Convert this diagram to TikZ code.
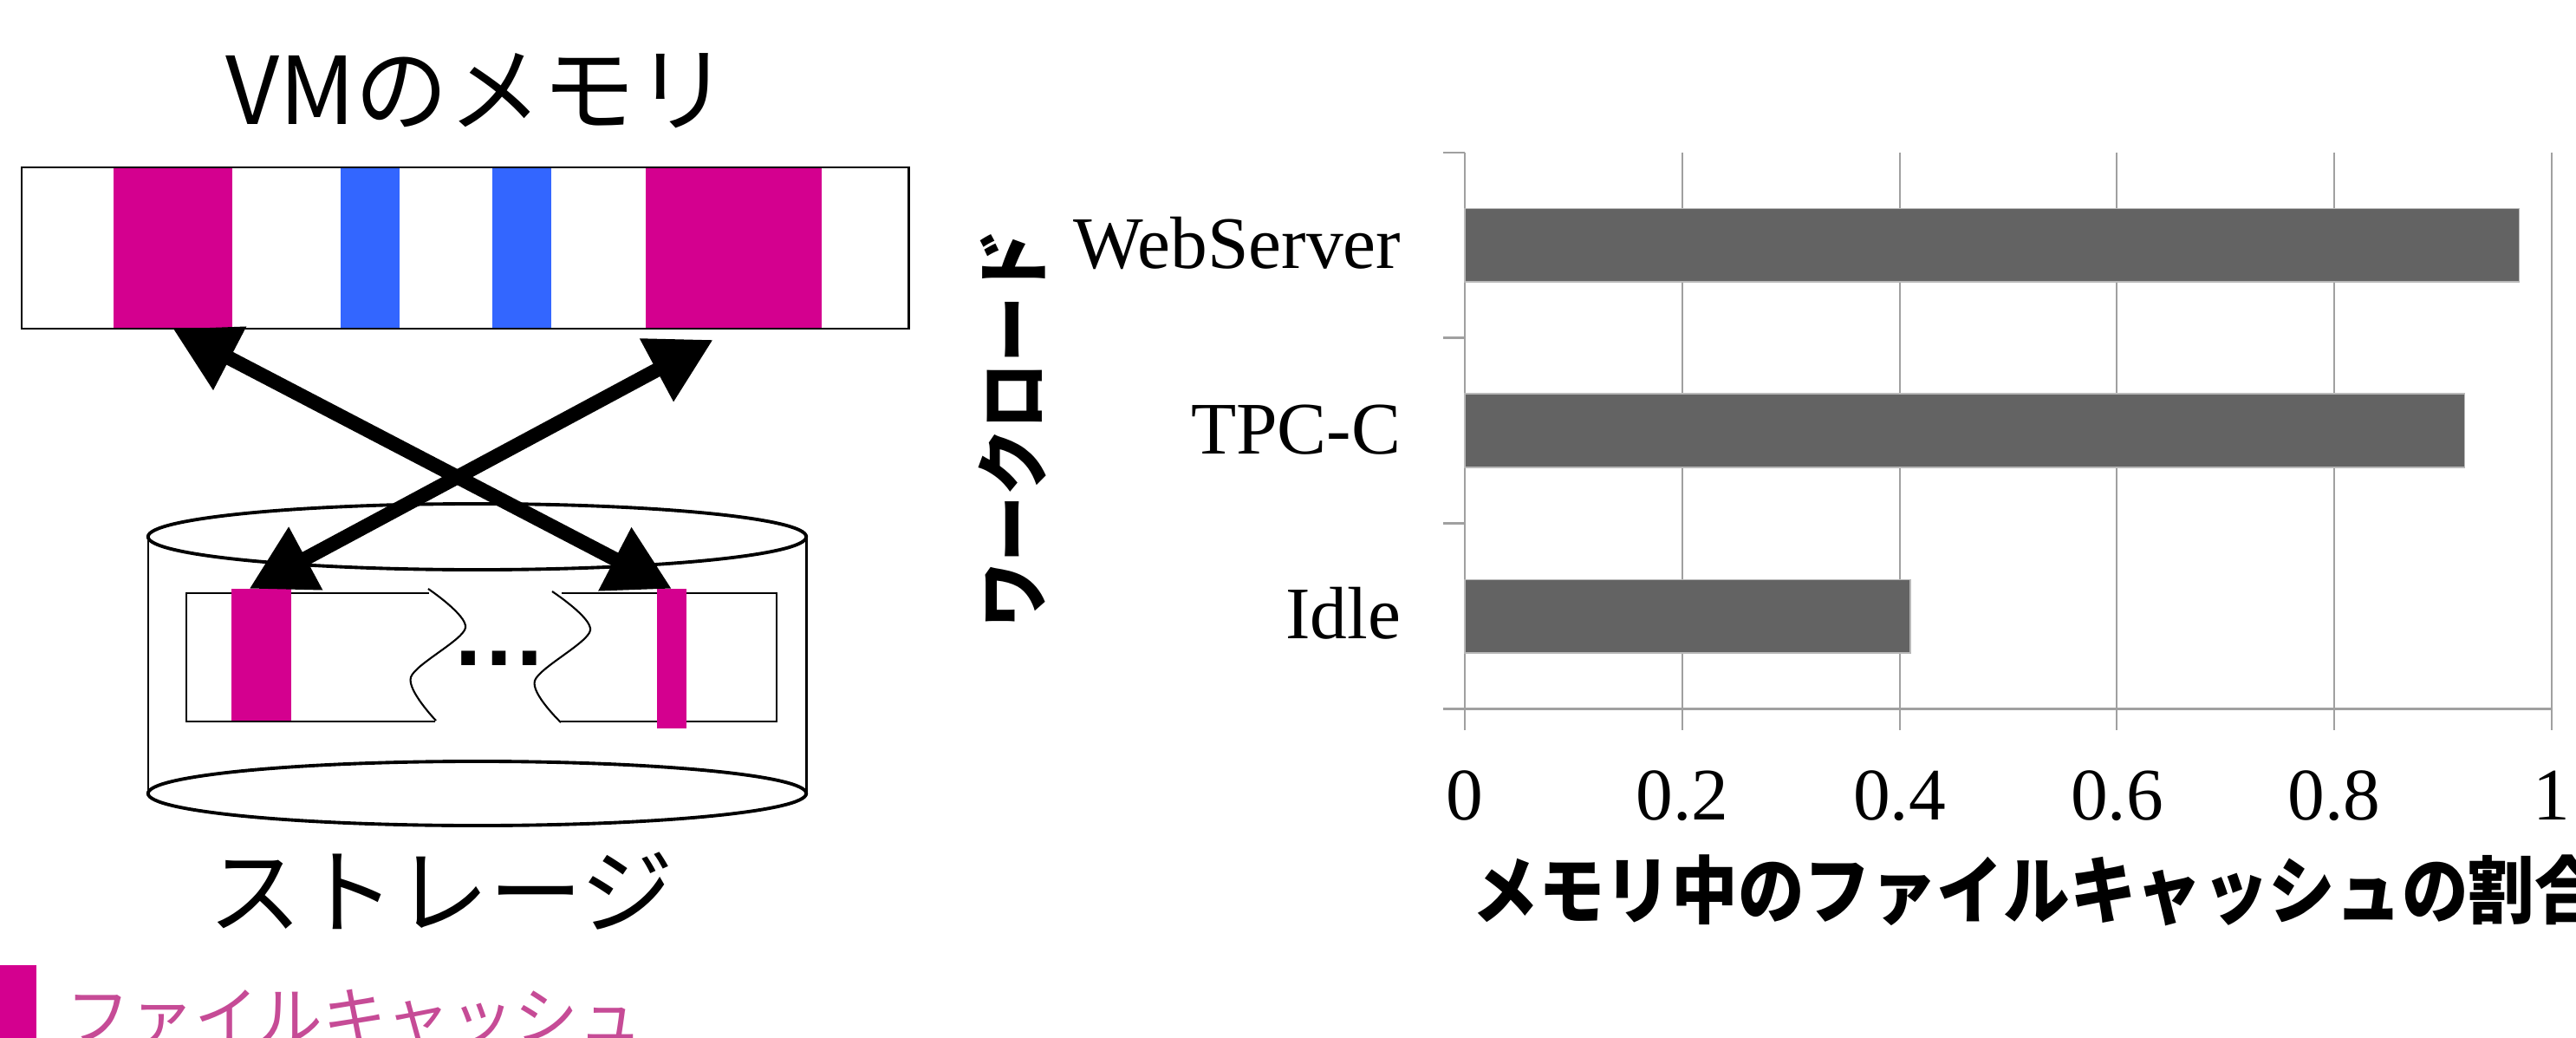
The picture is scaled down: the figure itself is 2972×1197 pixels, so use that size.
\documentclass[tikz,border=0pt]{standalone}
\usepackage{fontspec}
\setmainfont{Liberation Serif}
\newfontfamily\jpfont{Noto Sans CJK JP}
\newfontfamily\jpnarrow[FakeStretch=0.9]{Noto Sans CJK JP}
\newfontfamily\dotsfont{Liberation Sans}
\usepackage{tikz}
\usetikzlibrary{arrows.meta}
\definecolor{cachemag}{RGB}{212,0,143}
\definecolor{pageblue}{RGB}{51,102,255}
\definecolor{legendpink}{RGB}{198,75,150}
\definecolor{bargray}{RGB}{99,99,99}
\definecolor{gridgray}{RGB}{160,160,160}

\begin{document}
\begin{tikzpicture}[x=0.01cm, y=-0.01cm,
		cacheblk/.style={fill=cachemag, inner sep=0pt, outer sep=0pt},
		pageblk/.style={fill=pageblue, inner sep=0pt, outer sep=0pt, minimum width=0.68cm, minimum height=1.86cm},
		copyarrow/.style={line width=0.165cm, {Triangle[length=0.74cm, width=0.78cm]}-{Triangle[length=0.74cm, width=0.78cm]}},
		gridline/.style={gridgray, line width=0.6pt},
		wlbar/.style={fill=bargray, draw=gray!55, line width=0.4pt},
		catlabel/.style={anchor=base east, inner sep=0pt, font=\fontsize{24.3}{29}\selectfont},
		ticklabel/.style={anchor=base, inner sep=0pt, font=\fontsize{24.3}{29}\selectfont}]

		\useasboundingbox (0,0) rectangle (2972,1197);

		\node[anchor=base, inner sep=0pt] (vmtitle) at (551,144) {\jpfont\fontsize{30.7}{36}\selectfont VMのメモリ};
		\node[cacheblk, minimum width=1.37cm, minimum height=1.86cm] (mem1) at (199.5,286) {};
		\node[pageblk] (mem2) at (427,286) {};
		\node[pageblk] (mem3) at (602,286) {};
		\node[cacheblk, minimum width=2.03cm, minimum height=1.86cm] (mem4) at (846.5,286) {};
		\node[draw, line width=0.7pt, inner sep=0pt, minimum width=10.225cm, minimum height=1.86cm] (vmmem) at (536.75,286) {};

		\draw[line width=0.85pt] (171,619) -- (171,915);
		\draw[line width=0.85pt] (930,619) -- (930,915);
		\draw[line width=1.1pt] (550.5,915) ellipse [x radius=3.795cm, y radius=0.37cm];
		\draw[line width=1.1pt, fill=white] (550.5,619) ellipse [x radius=3.795cm, y radius=0.38cm];

		\draw[line width=0.7pt] (495,684) -- (215,684) -- (215,832) -- (502,832);
		\draw[line width=0.7pt] (648,684) -- (896,684) -- (896,832) -- (647,832);
		\draw[line width=0.6pt] plot[smooth] coordinates {(494,679) (537,724) (474,781) (503,831)};
		\draw[line width=0.6pt] plot[smooth] coordinates {(637,682) (681,727) (617,785) (647,833)};
		\node[inner sep=0pt] (gap) at (576,759) {\dotsfont\bfseries\fontsize{31.6}{36}\selectfont …};
		\node[cacheblk, minimum width=0.69cm, minimum height=1.52cm] (disk1) at (301.5,755) {};
		\node[cacheblk, minimum width=0.34cm, minimum height=1.61cm] (disk2) at (775,759.5) {};
		\node[anchor=base, inner sep=0pt] (disktitle) at (509,1068) {\jpfont\fontsize{30.7}{36}\selectfont ストレージ};

		\draw[copyarrow] (mem1.south) -- (disk2.north);
		\draw[copyarrow, shorten >=0.27cm] ([xshift=-0.14cm]disk1.north) -- (mem4.south);

		\node[cacheblk, minimum width=0.42cm, minimum height=0.97cm] (legendkey) at (21,1161.5) {};
		\node[anchor=base west, inner sep=0pt, text=legendpink] (legendtext) at (76,1199) {\jpfont\fontsize{21}{25}\selectfont ファイルキャッシュ};

		\foreach \v in {0.2,0.4,0.6,0.8,1}
			\draw[gridline] ({1690+1254*\v},175.6) -- ({1690+1254*\v},842);
		\draw[gridline] (1690,175.6) -- (1690,842);
		\draw[gridline] (1665,817.5) -- (2944,817.5);
		\foreach \y in {175.6,389.5,603.5}
			\draw[gridline] (1665,\y) -- (1690,\y);

		\foreach \c/\val in {282.75/0.97,496.5/0.92,710.5/0.41}
			\draw[wlbar] (1690,{\c-42.3}) rectangle ({1690+1254*\val},{\c+42.3});

		\node[catlabel] (webserver) at (1617,310) {WebServer};
		\node[catlabel] (tpcc) at (1617,523) {TPC-C};
		\node[catlabel] (idle) at (1617,736) {Idle};

		\foreach \v/\lab in {0/0,0.2/0.2,0.4/0.4,0.6/0.6,0.8/0.8,1/1}
			\node[ticklabel] at ({1690+1254*\v},945) {\lab};

		\node[rotate=90, inner sep=0pt] (ytitle) at (1168,495) {\jpnarrow\bfseries\fontsize{24.2}{29}\selectfont ワークロード};
		\node[anchor=base west, inner sep=0pt] (xtitle) at (1698,1058) {\jpnarrow\bfseries\fontsize{24.2}{29}\selectfont メモリ中のファイルキャッシュの割合};
\end{tikzpicture}
\end{document}
